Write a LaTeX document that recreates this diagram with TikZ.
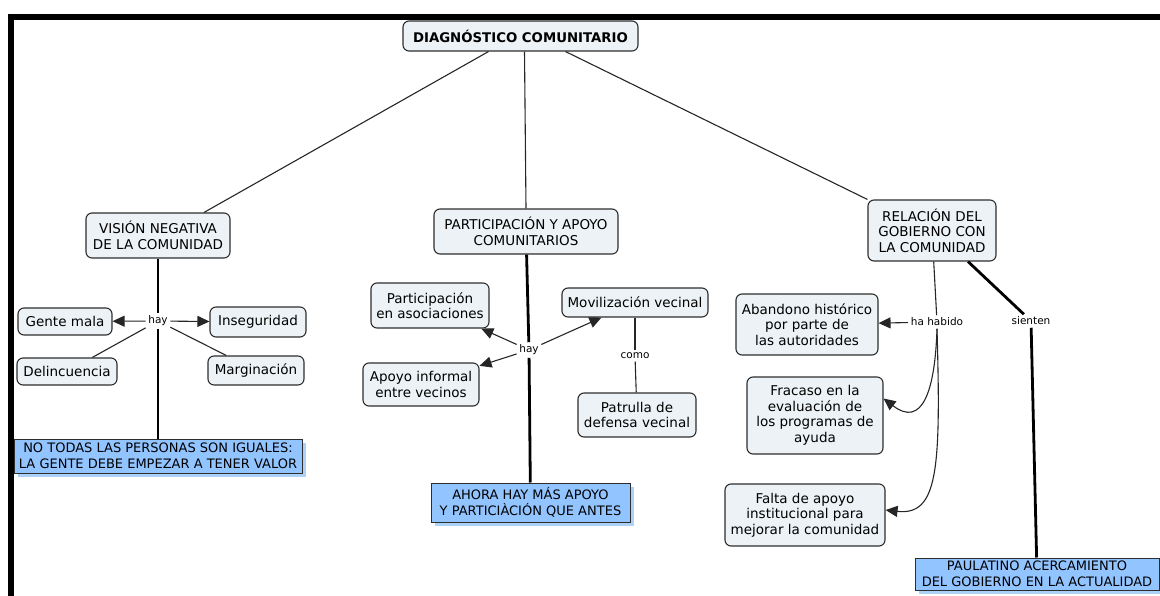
\documentclass[tikz,border=0pt]{standalone}
\usepackage{fontspec}
\setmainfont{DejaVu Sans}
\usetikzlibrary{arrows.meta,shadows}
\definecolor{conceptfill}{RGB}{236,242,245}
\definecolor{conceptdraw}{RGB}{45,45,45}
\definecolor{notefill}{RGB}{146,196,255}
\definecolor{noteshadow}{RGB}{172,210,250}
\tikzset{
  concept/.style={draw=conceptdraw, fill=conceptfill, line width=1.1pt,
    rounded corners=6pt, inner sep=0pt, align=center,
    font=\fontsize{13.5}{15.5}\selectfont},
  note/.style={draw=conceptdraw, fill=notefill, line width=1pt,
    inner sep=0pt, align=center, font=\fontsize{13}{16}\selectfont,
    drop shadow={shadow xshift=4pt, shadow yshift=-4pt, fill=noteshadow, opacity=1}},
  linkword/.style={inner sep=2.5pt, fill=white, font=\fontsize{10.5}{12}\selectfont},
  thin/.style={line width=1.1pt, draw=black!85},
  thick/.style={line width=2.8pt, draw=black},
  arr/.style={thin, -{Triangle[length=12pt,width=11pt]}},
}
\begin{document}
\begin{tikzpicture}[x=1pt,y=-1pt]
  \useasboundingbox (0,0) rectangle (1160,596);
  % outer frame
  \draw[line width=6pt] (11,600) -- (11,17) -- (1165,17);

  % root concept
  \node[concept, minimum width=235pt, minimum height=30pt,
        font=\fontsize{13.3}{15.5}\selectfont\bfseries] (root) at (520.5,36) {DIAGNÓSTICO COMUNITARIO};

  % main branches
  \node[concept, minimum width=144pt, minimum height=45pt] (vision) at (158,235.5)
       {VISIÓN NEGATIVA\\DE LA COMUNIDAD};
  \node[concept, minimum width=184pt, minimum height=45pt] (partic) at (526,231.5)
       {PARTICIPACIÓN Y APOYO\\COMUNITARIOS};
  \node[concept, minimum width=128pt, minimum height=61pt] (relac) at (932,230.5)
       {RELACIÓN DEL\\GOBIERNO CON\\LA COMUNIDAD};

  \draw[thin] ([xshift=-32pt]root.south) -- ([xshift=46pt]vision.north);
  \draw[thin] ([xshift=4pt]root.south) -- (partic.north);
  \draw[thin] ([xshift=45pt]root.south) -- (relac.north west);

  % ---- left branch
  \node[linkword] (hayA) at (158,321) {hay};
  \node[concept, minimum width=94pt, minimum height=27pt] (gente) at (65,321.5) {Gente mala};
  \node[concept, minimum width=96pt, minimum height=30pt] (inseg) at (258,322) {Inseguridad};
  \node[concept, minimum width=100pt, minimum height=27pt] (delinc) at (67,371.5) {Delincuencia};
  \node[concept, minimum width=96pt, minimum height=29pt] (margin) at (256,370.5) {Marginación};
  \node[note, minimum width=288pt, minimum height=34pt] (notodas) at (158,456)
       {NO TODAS LAS PERSONAS SON IGUALES:\\LA GENTE DEBE EMPEZAR A TENER VALOR};

  \draw[thick] (vision) -- (hayA);
  \draw[thick] (hayA) -- (notodas);
  \draw[arr] (hayA) -- (gente);
  \draw[arr] (hayA) -- (inseg);
  \draw[thin] (hayA) -- (delinc);
  \draw[thin] (hayA) -- (margin);

  % ---- middle branch
  \node[linkword] (hayB) at (529,350) {hay};
  \node[concept, minimum width=118pt, minimum height=45pt] (asoc) at (430,305.5)
       {Participación\\en asociaciones};
  \node[concept, minimum width=146pt, minimum height=29pt] (movil) at (635,302.5) {Movilización vecinal};
  \node[concept, minimum width=116pt, minimum height=43pt] (apoyo) at (421,384.5)
       {Apoyo informal\\entre vecinos};
  \node[linkword] (como) at (635,356) {como};
  \node[concept, minimum width=118pt, minimum height=44pt] (patrulla) at (637,415)
       {Patrulla de\\defensa vecinal};
  \node[note, minimum width=199pt, minimum height=39pt] (ahora) at (530.5,502.5)
       {AHORA HAY MÁS APOYO\\Y PARTICIÀCIÓN QUE ANTES};

  \draw[thick] (partic) -- (hayB);
  \draw[thick] (hayB) -- (ahora);
  \draw[arr] (hayB) -- (asoc);
  \draw[arr] (hayB) -- (movil);
  \draw[arr] (hayB) -- (apoyo);
  \draw[thin] (movil) -- (como);
  \draw[thin] (como) -- (patrulla);

  % ---- right branch
  \node[linkword] (habido) at (937,322) {ha habido};
  \node[linkword] (sienten) at (1031,321) {sienten};
  \node[concept, minimum width=142pt, minimum height=61pt] (abandono) at (807,324.5)
       {Abandono histórico\\por parte de\\las autoridades};
  \node[concept, minimum width=136pt, minimum height=77pt] (fracaso) at (815,415.5)
       {Fracaso en la\\evaluación de\\los programas de\\ayuda};
  \node[concept, minimum width=160pt, minimum height=62pt] (falta) at (805,515)
       {Falta de apoyo\\institucional para\\mejorar la comunidad};
  \node[note, minimum width=244pt, minimum height=32pt] (paulat) at (1037,574)
       {PAULATINO ACERCAMIENTO\\DEL GOBIERNO EN LA ACTUALIDAD};

  \draw[thin] (relac) -- (habido);
  \draw[arr] (habido) -- (abandono);
  \draw[arr] (habido.south) .. controls (935,392) and (922,428) .. ([yshift=17pt]fracaso.east);
  \draw[arr] (habido.south) .. controls (941,470) and (938,516) .. ([yshift=5pt]falta.east);
  \draw[thick] ([xshift=36pt]relac.south) -- (sienten);
  \draw[thick] (sienten) -- (paulat);
\end{tikzpicture}
\end{document}
